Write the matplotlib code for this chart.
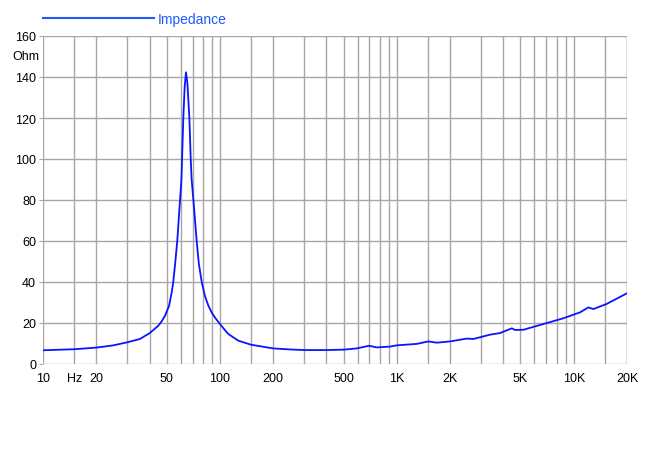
import numpy as np
import matplotlib.pyplot as plt
from matplotlib.ticker import NullFormatter

plt.rcParams.update({"font.family": ["Liberation Sans", "DejaVu Sans"], "font.size": 9})

# impedance curve (Hz, Ohm)
freq = [10, 15, 20, 25, 30, 35.3, 40, 44.9, 47, 49, 51.6, 53.4, 54.5, 56, 57.4, 59.5,
        60.6, 61.1, 62.1, 63.2, 64.3, 65.5, 67.2, 68.4, 69.2, 70.8, 73.9, 76,
        78.9, 82.4, 86, 90, 95, 100, 111, 120, 127, 150, 200, 250, 300, 400, 500,
        593, 697, 770, 916, 1000, 1294, 1506, 1681, 1997, 2483, 2706, 3363, 3831,
        4466, 4660, 5190, 6735, 8733, 10860, 12090, 12900, 15350, 20000]
ohm = [6.7, 7.2, 8.0, 9.1, 10.6, 12.2, 15.0, 18.7, 21.0, 23.6, 28.4, 35.0, 40.0, 50.0, 60.0,
       80.0, 90.0, 100, 120, 135, 142.3, 137, 120, 100, 90.0, 80.0, 60.0, 49.0,
       40.0, 33.0, 28.5, 25.0, 22.0, 19.5, 14.8, 12.8, 11.4, 9.4, 7.6, 7.1, 6.8,
       6.8, 7.0, 7.6, 8.9, 8.1, 8.5, 9.1, 9.8, 11.0, 10.4, 11.0, 12.4, 12.2, 14.3,
       15.1, 17.4, 16.6, 16.7, 19.5, 22.3, 25.2, 27.6, 26.8, 29.3, 34.5]

xtick_vals = [10, 15, 20, 50, 100, 200, 500, 1000, 2000, 5000, 10000, 20000]
xtick_text = ["10", "Hz", "20", "50", "100", "200", "500", "1K", "2K", "5K", "10K", "20K"]
ytick_vals = list(range(0, 161, 20))

BLUE = "#0a14ff"
GRID = "#a6a6a6"

fig = plt.figure(figsize=(6.5, 4.77), dpi=100)
ax = fig.add_axes([43/650, 1 - 365/477, (627-43)/650, (365-37)/477])

ax.plot(freq, ohm, color=BLUE, lw=1.3, label="Impedance", zorder=3)

ax.set_xscale("log")
ax.set_xlim(10, 20000)
ax.set_ylim(0, 160)

# vertical grid: 1, 1.5, 2..9 per decade
vgrid = [m * 10**d for d in range(1, 5) for m in (1, 1.5, 2, 3, 4, 5, 6, 7, 8, 9)]
vgrid = [v for v in vgrid if 10 <= v <= 20000] + [20000]
for v in vgrid:
    ax.axvline(v, color=GRID, lw=1.0, zorder=1)
for y in ytick_vals:
    ax.axhline(y, color=GRID, lw=1.0, zorder=1)

ax.set_xticks(xtick_vals)
ax.set_xticklabels(xtick_text)
ax.xaxis.set_minor_formatter(NullFormatter())
ax.tick_params(axis="x", which="both", length=0, pad=6)
ax.set_yticks(ytick_vals)
ax.tick_params(axis="y", length=3, color=GRID, pad=2)
for s in ax.spines.values():
    s.set_visible(False)

fig.text(12/650, 1 - 57/477, "Ohm", ha="left", va="center", fontsize=9)

leg = ax.legend(loc="lower left", bbox_to_anchor=(43/650, 1 - 27/477),
                bbox_transform=fig.transFigure, frameon=False, borderpad=0,
                borderaxespad=0, handlelength=8.0, handletextpad=0.25,
                fontsize=10, labelcolor="#1f5bff")
for h in leg.get_lines():
    h.set_color("#1f5bff")
    h.set_linewidth(1.5)

fig.savefig("out.png", dpi=100)
